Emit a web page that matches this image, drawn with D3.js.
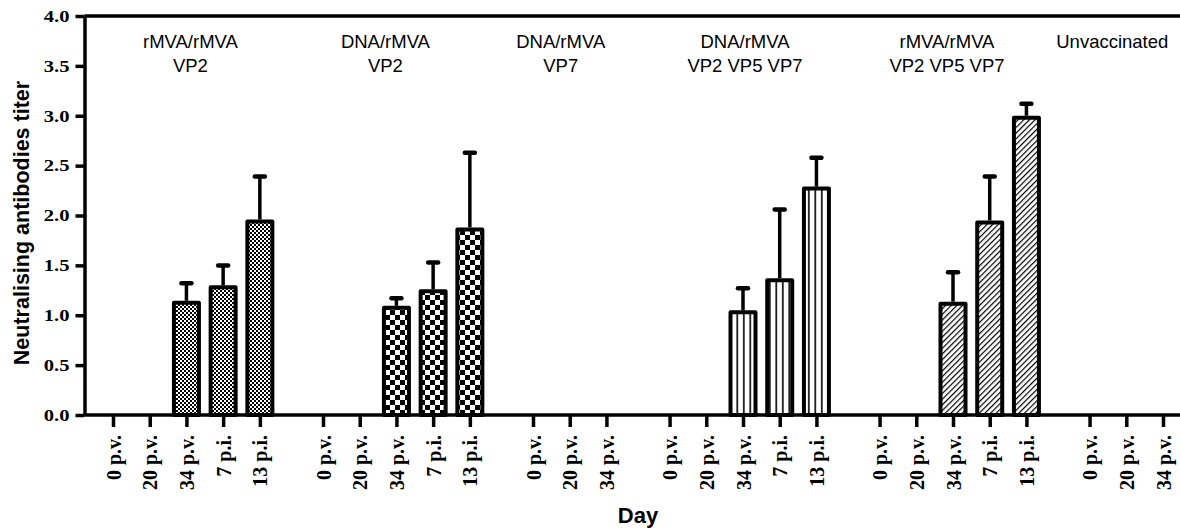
<!DOCTYPE html>
<html>
<head>
<meta charset="utf-8">
<script src="https://cdn.jsdelivr.net/npm/d3@7"></script>
<style>
  body { margin: 0; background: #fff; }
  svg { display: block; }
</style>
</head>
<body>
<div id="chart"></div>
<script>
// groups of animals, one label of two lines each
const groupLine1 = ["rMVA/rMVA", "DNA/rMVA", "DNA/rMVA", "DNA/rMVA", "rMVA/rMVA", "Unvaccinated"];
const groupLine2 = ["VP2", "VP2", "VP7", "VP2 VP5 VP7", "VP2 VP5 VP7", ""];

const days5 = ["0 p.v.", "20 p.v.", "34 p.v.", "7 p.i.", "13 p.i."];
const days3 = ["0 p.v.", "20 p.v.", "34 p.v."];
const groupDays = [days5, days5, days3, days5, days5, days3];

// mean titer and top of the error bar
const titerMean = [
  [0, 0, 1.125, 1.28, 1.94],
  [0, 0, 1.075, 1.24, 1.86],
  [0, 0, 0],
  [0, 0, 1.03, 1.35, 2.27],
  [0, 0, 1.115, 1.93, 2.98],
  [0, 0, 0]
];
const titerUpper = [
  [null, null, 1.32, 1.50, 2.39],
  [null, null, 1.17, 1.53, 2.63],
  [null, null, null],
  [null, null, 1.27, 2.06, 2.58],
  [null, null, 1.43, 2.39, 3.12],
  [null, null, null]
];

const yTicks = [0, 0.5, 1, 1.5, 2, 2.5, 3, 3.5, 4];

// fill pattern per group
const groupFill = ["url(#dots)", "url(#checker)", "#fff", "url(#vlines)", "url(#hatch)", "#fff"];
// small horizontal nudge of the group labels, as placed in the original
const labelNudge = [4, -11, -9, 2, -6, -14];

const width = 1180, height = 530;
const gap = 0.72; // extra slots between groups
const serif = "'Liberation Serif', 'Times New Roman', serif";
const sans = "'Liberation Sans', Arial, sans-serif";

// flatten to one row per day
let rows = [];
let slot = 0;
groupDays.forEach((days, g) => {
  days.forEach((d, i) => {
    rows.push({group: g, day: d, pos: slot + g * gap, v: titerMean[g][i], up: titerUpper[g][i]});
    slot++;
  });
});
const lastPos = rows[rows.length - 1].pos;

const x = d3.scaleLinear().domain([0, lastPos]).range([113, 1163]);
const y = d3.scaleLinear().domain([0, 4]).range([415, 16]);

const svg = d3.select("#chart").append("svg")
  .attr("width", width)
  .attr("height", height);

svg.append("rect").attr("width", width).attr("height", height).attr("fill", "#fff");

const defs = svg.append("defs");

let p = defs.append("pattern").attr("id", "dots")
  .attr("patternUnits", "userSpaceOnUse").attr("width", 4).attr("height", 4);
p.append("rect").attr("width", 4).attr("height", 4).attr("fill", "#000");
p.append("rect").attr("width", 2).attr("height", 2).attr("fill", "#fff");
p.append("rect").attr("x", 2).attr("y", 2).attr("width", 2).attr("height", 2).attr("fill", "#fff");

p = defs.append("pattern").attr("id", "checker")
  .attr("patternUnits", "userSpaceOnUse").attr("width", 10).attr("height", 10);
p.append("rect").attr("width", 10).attr("height", 10).attr("fill", "#fff");
p.append("rect").attr("width", 5).attr("height", 5).attr("fill", "#000");
p.append("rect").attr("x", 5).attr("y", 5).attr("width", 5).attr("height", 5).attr("fill", "#000");

p = defs.append("pattern").attr("id", "vlines")
  .attr("patternUnits", "userSpaceOnUse").attr("width", 6.5).attr("height", 10);
p.append("rect").attr("width", 6.5).attr("height", 10).attr("fill", "#fff");
p.append("rect").attr("x", 2).attr("width", 1.6).attr("height", 10).attr("fill", "#000");

p = defs.append("pattern").attr("id", "hatch")
  .attr("patternUnits", "userSpaceOnUse").attr("width", 4).attr("height", 4)
  .attr("patternTransform", "rotate(45)");
p.append("rect").attr("width", 4).attr("height", 4).attr("fill", "#fff");
p.append("rect").attr("width", 1.2).attr("height", 4).attr("fill", "#000");

// bars
const bw = 25;
const barRows = rows.filter(d => d.v > 0);

svg.append("g")
  .selectAll("rect")
  .data(barRows)
  .join("rect")
    .attr("x", d => x(d.pos) - bw / 2)
    .attr("y", d => y(d.v))
    .attr("width", bw)
    .attr("height", d => y(0) - y(d.v))
    .attr("fill", d => groupFill[d.group])
    .attr("stroke", "#000")
    .attr("stroke-width", 4)
    .attr("stroke-linejoin", "round");

// error bars
const err = svg.append("g")
  .attr("stroke", "#000")
  .attr("stroke-linecap", "round")
  .selectAll("g")
  .data(rows.filter(d => d.up != null))
  .join("g");

err.append("line")
  .attr("x1", d => x(d.pos)).attr("x2", d => x(d.pos))
  .attr("y1", d => y(d.v) - 2).attr("y2", d => y(d.up))
  .attr("stroke-width", 3.5)
  .attr("stroke-linecap", "butt");

err.append("line")
  .attr("x1", d => x(d.pos) - 5).attr("x2", d => x(d.pos) + 5)
  .attr("y1", d => y(d.up)).attr("y2", d => y(d.up))
  .attr("stroke-width", 4.5);

// y axis
const yAxis = svg.append("g")
  .attr("transform", `translate(${x.range()[0] - 28.5},0)`)
  .call(d3.axisLeft(y).tickValues(yTicks).tickFormat(d3.format(".1f")).tickSize(9).tickSizeOuter(0).tickPadding(6));

yAxis.select(".domain").attr("stroke-width", 3.5);
yAxis.selectAll(".tick line").attr("stroke-width", 3.5);
yAxis.selectAll(".tick text")
  .attr("font-family", serif)
  .attr("font-weight", "bold")
  .attr("font-size", 16.5)
  .attr("fill", "#000")
  .attr("transform", function() {
    const tx = +d3.select(this).attr("x");
    return `translate(${tx},0) scale(1.25,1) translate(${-tx},0)`;
  });

// top border and x axis line
svg.append("line")
  .attr("x1", 84.5).attr("x2", width)
  .attr("y1", y(4)).attr("y2", y(4))
  .attr("stroke", "#000").attr("stroke-width", 3.5);

const xAxis = svg.append("g")
  .attr("transform", `translate(0,${y(0)})`)
  .call(d3.axisBottom(x).tickValues(rows.map(d => d.pos)).tickFormat((d, i) => rows[i].day).tickSize(12).tickSizeOuter(0));

xAxis.select(".domain").remove();
xAxis.selectAll(".tick line").attr("stroke-width", 3.5);
xAxis.selectAll(".tick text")
  .attr("font-family", serif)
  .attr("font-weight", "bold")
  .attr("font-size", 20)
  .attr("fill", "#000")
  .attr("text-anchor", "end")
  .attr("x", -20)
  .attr("y", 0)
  .attr("dy", "0.35em")
  .attr("transform", "rotate(-90)");

svg.append("line")
  .attr("x1", 84.5).attr("x2", width)
  .attr("y1", y(0)).attr("y2", y(0))
  .attr("stroke", "#000").attr("stroke-width", 3.5);

// group labels
const groupCenter = groupDays.map((days, g) => {
  const r = rows.filter(d => d.group === g);
  return (x(r[0].pos) + x(r[r.length - 1].pos)) / 2 + labelNudge[g];
});

const labels = svg.append("g")
  .attr("font-family", sans)
  .attr("font-size", 18.5)
  .attr("text-anchor", "middle")
  .attr("fill", "#000");

labels.selectAll("text.l1")
  .data(groupLine1)
  .join("text")
    .attr("class", "l1")
    .attr("x", (d, i) => groupCenter[i])
    .attr("y", 48)
    .text(d => d);

labels.selectAll("text.l2")
  .data(groupLine2)
  .join("text")
    .attr("class", "l2")
    .attr("x", (d, i) => groupCenter[i])
    .attr("y", 72)
    .text(d => d);

// axis titles
svg.append("text")
  .attr("transform", "translate(29,223) rotate(-90)")
  .attr("text-anchor", "middle")
  .attr("font-family", sans)
  .attr("font-weight", "bold")
  .attr("font-size", 21.5)
  .text("Neutralising antibodies titer");

svg.append("text")
  .attr("x", 638)
  .attr("y", 523)
  .attr("text-anchor", "middle")
  .attr("font-family", sans)
  .attr("font-weight", "bold")
  .attr("font-size", 22)
  .text("Day");
</script>
</body>
</html>
